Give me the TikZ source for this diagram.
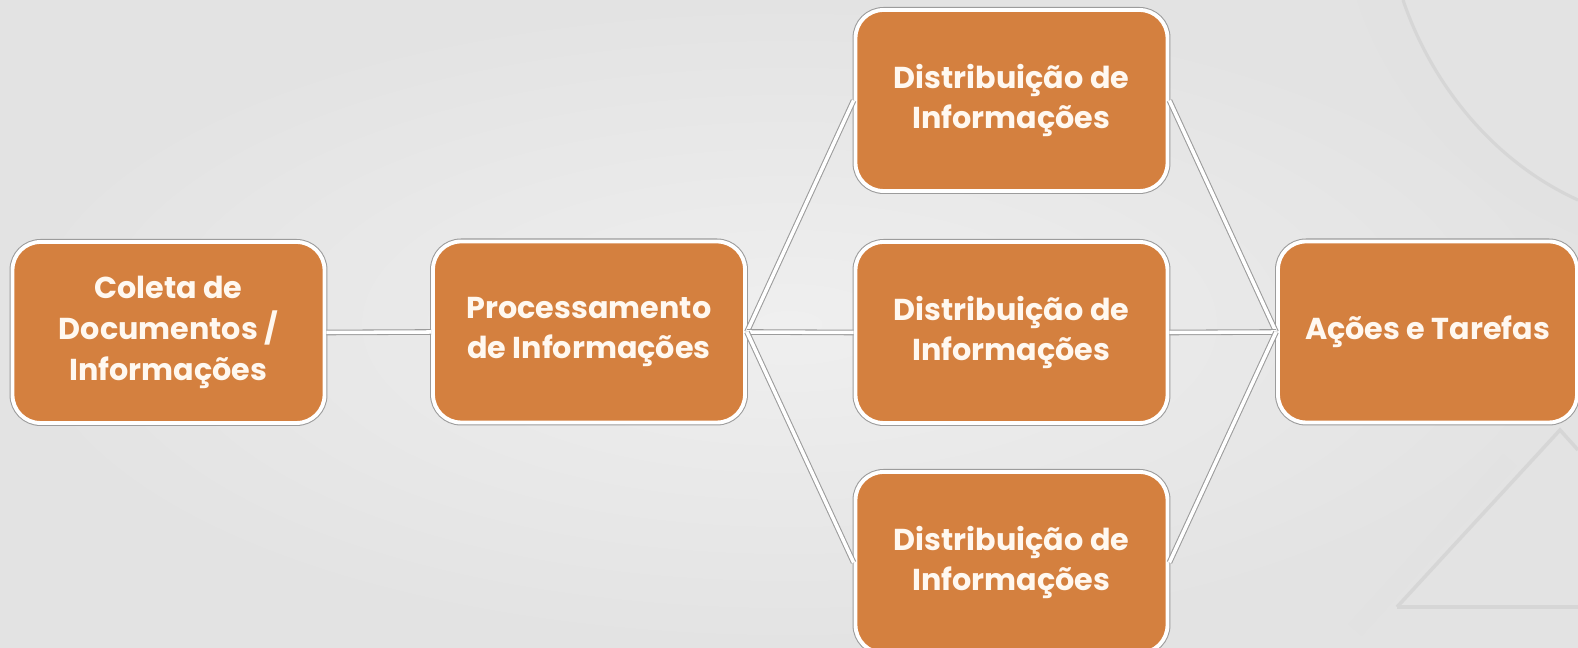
\documentclass[tikz,border=0pt]{standalone}
\usepackage{fontspec}
\setsansfont{Poppins}
\usetikzlibrary{calc}

\definecolor{laranja}{HTML}{D4803F}
\definecolor{fundoclaro}{HTML}{EFEFEF}
\definecolor{fundoescuro}{HTML}{E3E3E3}
\definecolor{borda}{HTML}{9C9C9C}
\definecolor{enfeite}{HTML}{D6D6D6}
\definecolor{faixa}{HTML}{E2E2E2}
\definecolor{letra}{HTML}{FFF8F0}

\tikzset{
  caixa/.style={rectangle, rounded corners=0.28cm, fill=laranja, draw=white, line width=1.1pt,
    preaction={draw=borda, line width=1.7pt},
    minimum width=3.12cm, minimum height=1.81cm, inner sep=0pt, align=center,
    text=letra, font=\sffamily\bfseries\fontsize{8.6}{11.6}\selectfont},
  ligacao/.style={draw=borda, line width=0.3pt, double=white, double distance=1pt}
}

\begin{document}
\begin{tikzpicture}

\shade[inner color=fundoclaro, outer color=fundoescuro] (0,0) rectangle (15.78,-6.48);
\useasboundingbox (0,0) rectangle (15.78,-6.48);

% enfeites do fundo
\fill[faixa] (13.57,0) .. controls (13.9,-1.0) and (14.7,-1.9) .. (15.78,-2.35)
  -- (15.78,-2.0) .. controls (14.9,-1.6) and (14.3,-0.8) .. (14.03,0) -- cycle;
\draw[enfeite, line width=0.9pt] (14.03,0) .. controls (14.3,-0.8) and (14.9,-1.6) .. (15.78,-2.0);
\draw[faixa, line width=5pt] (13.55,-6.30) -- (15.10,-4.60);
\draw[enfeite, line width=1pt] (13.97,-6.07) -- (15.60,-4.30) -- (15.78,-4.50);
\draw[enfeite, line width=1pt] (13.97,-6.07) -- (15.78,-6.07);

\node[caixa] (coleta) at (1.685,-3.325) {Coleta de\\Documentos /\\Informações};
\node[caixa] (processo) at (5.89,-3.32) {Processamento\\de Informações};
\node[caixa] (distA) at (10.115,-1.005) {Distribuição de\\Informações};
\node[caixa] (distB) at (10.115,-3.325) {Distribuição de\\Informações};
\node[caixa] (distC) at (10.115,-5.625) {Distribuição de\\Informações};
\node[caixa, minimum width=2.99cm] (acoes) at (14.275,-3.32) {Ações e Tarefas};

\draw[ligacao] (coleta.east) -- (processo.west);
\foreach \d in {distA,distB,distC} {
  \draw[ligacao] (processo.east) -- (\d.west);
  \draw[ligacao] (\d.east) -- (acoes.west);
}

\end{tikzpicture}
\end{document}
